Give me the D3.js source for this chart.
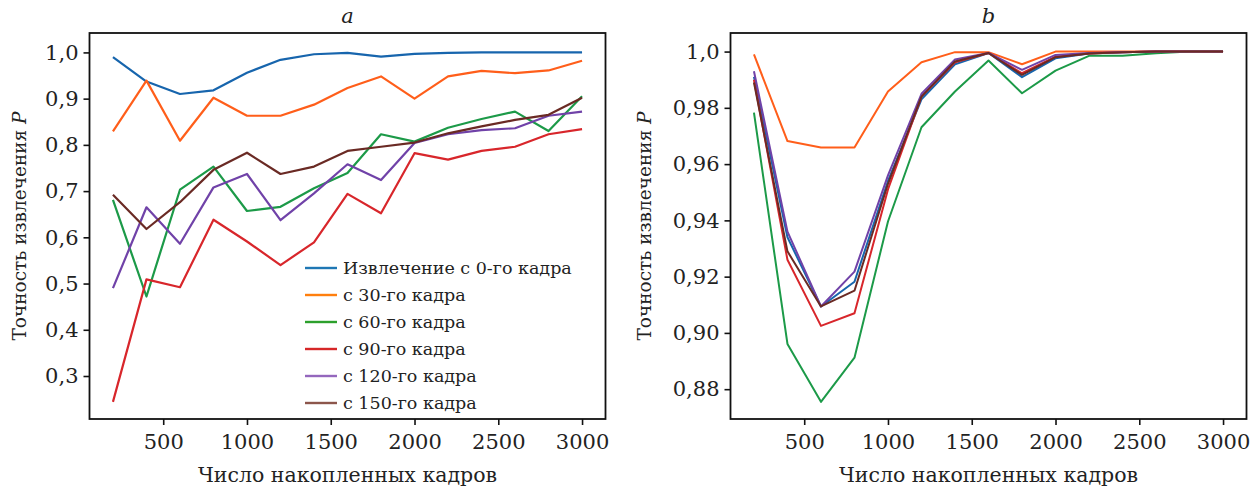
<!DOCTYPE html>
<html>
<head>
<meta charset="utf-8">
<script src="https://cdn.jsdelivr.net/npm/d3@7"></script>
<style>
  body { margin: 0; background: #fff; }
  svg text { font-family: "DejaVu Serif", "Liberation Serif", serif; fill: #222; }
</style>
</head>
<body>
<svg id="chart" width="1258" height="492"></svg>
<script>
// frames accumulated
const frames = [200, 400, 600, 800, 1000, 1200, 1400, 1600, 1800, 2000, 2200, 2400, 2600, 2800, 3000];
const xTicks = [500, 1000, 1500, 2000, 2500, 3000];

const seriesNames = ["Извлечение с 0-го кадра", "с 30-го кадра", "с 60-го кадра", "с 90-го кадра", "с 120-го кадра", "с 150-го кадра"];
const colors = ["#1765ad", "#ff5e1a", "#1c9a48", "#d8262b", "#7042a8", "#6a2a24"];
const legendColors = ["#1f77b4", "#ff7f0e", "#2ca02c", "#d62728", "#9467bd", "#8c564b"];

// panel a
const a0 = [0.990, 0.937, 0.910, 0.918, 0.956, 0.984, 0.996, 0.999, 0.991, 0.997, 0.999, 1.0, 1.0, 1.0, 1.0];
const a30 = [0.829, 0.939, 0.809, 0.902, 0.863, 0.863, 0.887, 0.923, 0.948, 0.900, 0.948, 0.960, 0.955, 0.961, 0.982];
const a60 = [0.681, 0.472, 0.703, 0.753, 0.657, 0.666, 0.706, 0.739, 0.823, 0.807, 0.837, 0.856, 0.872, 0.830, 0.905];
const a90 = [0.244, 0.509, 0.492, 0.638, 0.591, 0.540, 0.589, 0.694, 0.652, 0.782, 0.768, 0.787, 0.796, 0.823, 0.834];
const a120 = [0.490, 0.665, 0.586, 0.708, 0.737, 0.637, 0.695, 0.758, 0.724, 0.804, 0.823, 0.832, 0.836, 0.863, 0.872];
const a150 = [0.692, 0.618, 0.676, 0.746, 0.783, 0.737, 0.753, 0.787, 0.796, 0.805, 0.825, 0.840, 0.854, 0.865, 0.902];

// panel b
const b0 = [0.991, 0.934, 0.9094, 0.9182, 0.954, 0.983, 0.9955, 0.9995, 0.9909, 0.9976, 0.9993, 0.9998, 1.0, 1.0, 1.0];
const b30 = [0.9990, 0.9682, 0.9659, 0.9659, 0.9858, 0.9962, 0.9998, 0.9998, 0.9955, 1.0, 1.0, 1.0, 1.0, 1.0, 1.0];
const b60 = [0.9783, 0.8961, 0.8755, 0.8912, 0.9396, 0.9731, 0.9858, 0.9968, 0.9852, 0.9932, 0.9985, 0.9985, 0.9994, 1.0, 1.0];
const b90 = [0.990, 0.926, 0.9025, 0.9070, 0.951, 0.984, 0.9962, 0.9995, 0.9923, 0.9982, 0.9993, 0.9998, 1.0, 1.0, 1.0];
const b120 = [0.993, 0.936, 0.9094, 0.9218, 0.956, 0.985, 0.9972, 0.9995, 0.9935, 0.9988, 0.9995, 0.9998, 1.0, 1.0, 1.0];
const b150 = [0.989, 0.929, 0.9094, 0.9150, 0.953, 0.984, 0.9965, 0.9995, 0.9917, 0.9980, 0.9993, 0.9998, 1.0, 1.0, 1.0];

const yTicksA = [0.3, 0.4, 0.5, 0.6, 0.7, 0.8, 0.9, 1.0];
const yLabelsA = ["0,3", "0,4", "0,5", "0,6", "0,7", "0,8", "0,9", "1,0"];
const yTicksB = [0.88, 0.90, 0.92, 0.94, 0.96, 0.98, 1.0];
const yLabelsB = ["0,88", "0,90", "0,92", "0,94", "0,96", "0,98", "1,0"];

const FONT = '"DejaVu Serif", serif';
const svg = d3.select("#chart");
const plotTop = 33, plotBottom = 419;

function panel(opts) {
    const x = d3.scaleLinear().domain([60, 3140]).range([opts.left, opts.right]);
    const y = d3.scaleLinear().domain(opts.yDomain).range([plotBottom, plotTop]);
    const g = svg.append("g");

    const line = d3.line().x((d, i) => x(frames[i])).y(d => y(d));
    opts.series.forEach((s, k) => {
        g.append("path")
         .attr("d", line(s))
         .attr("fill", "none")
         .attr("stroke", colors[k])
         .attr("stroke-width", opts.lw)
         .attr("stroke-linejoin", "round");
    });

    // axes
    const xAxis = d3.axisBottom(x).tickValues(xTicks).tickSize(6).tickPadding(9).tickFormat(d => d);
    const yAxis = d3.axisLeft(y).tickValues(opts.yTicks).tickSize(6).tickPadding(5)
        .tickFormat((d, i) => opts.yLabels[i]);
    const gx = g.append("g").attr("transform", `translate(0,${plotBottom})`).call(xAxis);
    const gy = g.append("g").attr("transform", `translate(${opts.left},0)`).call(yAxis);
    [gx, gy].forEach(ax => {
        ax.attr("font-family", FONT);
        ax.select(".domain").remove();
        ax.selectAll("line").attr("stroke", "#111").attr("stroke-width", 1.6);
        ax.selectAll("text").style("font-size", "21px").attr("fill", "#222")
          .style("font-family", FONT);
    });

    g.append("rect")
     .attr("x", opts.left).attr("y", plotTop)
     .attr("width", opts.right - opts.left).attr("height", plotBottom - plotTop)
     .attr("fill", "none").attr("stroke", "#111").attr("stroke-width", 1.8);

    const cx = (opts.left + opts.right) / 2;
    g.append("text").attr("x", cx).attr("y", 23).attr("text-anchor", "middle")
     .style("font-family", FONT).style("font-size", "21px").style("font-style", "italic").text(opts.title);
    g.append("text").attr("x", cx).attr("y", 482).attr("text-anchor", "middle")
     .style("font-family", FONT).style("font-size", "20.5px").text("Число накопленных кадров");

    const yl = g.append("text")
     .attr("transform", `translate(${opts.left - opts.ylOffset},226) rotate(-90)`)
     .attr("text-anchor", "middle").style("font-family", FONT).style("font-size", "18.5px");
    yl.append("tspan").text("Точность извлечения ");
    yl.append("tspan").style("font-style", "italic").text("P");
    return {x, y, g};
}

const pa = panel({left: 89.5, right: 605.5, yDomain: [0.207, 1.042], yTicks: yTicksA, yLabels: yLabelsA,
    series: [a0, a30, a60, a90, a120, a150], title: "a", lw: 2.2, ylOffset: 64});
const pb = panel({left: 730.5, right: 1246.5, yDomain: [0.8694, 1.0066], yTicks: yTicksB, yLabels: yLabelsB,
    series: [b0, b30, b60, b90, b120, b150], title: "b", lw: 2, ylOffset: 80});

// legend on panel a
const leg = svg.append("g");
seriesNames.forEach((name, k) => {
    const yy = 268 + k * 27;
    leg.append("line").attr("x1", 305).attr("x2", 337).attr("y1", yy).attr("y2", yy)
       .attr("stroke", legendColors[k]).attr("stroke-width", 2.4);
    leg.append("text").attr("x", 343).attr("y", yy + 6).style("font-family", FONT)
       .style("font-size", "17.5px").text(name);
});
</script>
</body>
</html>
